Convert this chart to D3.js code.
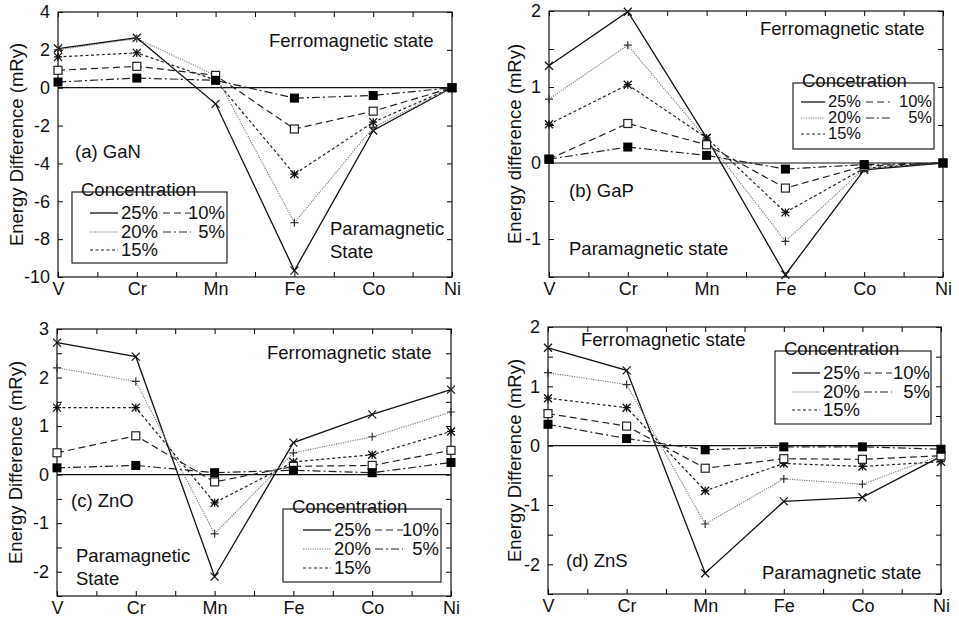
<!DOCTYPE html>
<html>
<head>
<meta charset="utf-8">
<script src="https://cdn.jsdelivr.net/npm/d3@7"></script>
<style>
  body { margin: 0; background: #fff; }
  svg { display: block; font-family: "Liberation Sans", Arial, sans-serif; }
  .axis path { display: none; }
  .axis line { stroke: #000; }
  .axis text { font-size: 18px; fill: #111; }
</style>
</head>
<body>
<svg id="chart" width="959" height="619"></svg>
<script>
const elements = ["V", "Cr", "Mn", "Fe", "Co", "Ni"];
const concentrations = ["25%", "20%", "15%", "10%", "5%"];

// energy difference (mRy), one row per concentration
const ganValues = [
    [2.07, 2.64, -0.85, -9.66, -2.26, 0],
    [2.0, 2.6, 0.65, -7.13, -2.1, 0],
    [1.63, 1.84, 0.4, -4.57, -1.82, 0],
    [0.92, 1.13, 0.65, -2.18, -1.24, 0],
    [0.3, 0.51, 0.39, -0.55, -0.41, 0]
];
const gapValues = [
    [1.28, 1.99, 0.33, -1.47, -0.09, 0],
    [0.84, 1.55, 0.31, -1.03, -0.07, 0],
    [0.51, 1.03, 0.33, -0.65, -0.07, 0],
    [0.05, 0.52, 0.24, -0.33, -0.04, 0],
    [0.05, 0.21, 0.1, -0.08, -0.02, 0]
];
const znoValues = [
    [2.72, 2.43, -2.1, 0.66, 1.24, 1.75],
    [2.2, 1.92, -1.22, 0.45, 0.78, 1.29],
    [1.38, 1.38, -0.58, 0.26, 0.41, 0.89],
    [0.45, 0.8, -0.15, 0.17, 0.19, 0.5],
    [0.14, 0.19, 0.04, 0.09, 0.04, 0.25]
];
const znsValues = [
    [1.65, 1.27, -2.15, -0.94, -0.87, -0.18],
    [1.23, 1.03, -1.32, -0.56, -0.65, -0.16],
    [0.8, 0.64, -0.76, -0.3, -0.35, -0.27],
    [0.54, 0.33, -0.38, -0.22, -0.23, -0.17],
    [0.36, 0.12, -0.07, -0.02, -0.02, -0.06]
];

const seriesStyle = [
    {dash: null, color: "#111", width: 1.3, marker: "cross"},
    {dash: "1.2,1.2", color: "#777", width: 1.1, marker: "plus"},
    {dash: "3,2.5", color: "#222", width: 1.2, marker: "star"},
    {dash: "7,4", color: "#222", width: 1.2, marker: "open"},
    {dash: "8,3,2,3", color: "#222", width: 1.2, marker: "filled"}
];

const panels = [
    {values: ganValues, left: 58, right: 452, top: 12, bottom: 277, domain: [-10, 4], tick: 2, label: 2,
     ylabel: "Energy Difference (mRy)", ylabelX: 18,
     legend: {x: 72, y: 192, w: 155, h: 71, title: "Concentration", rows: [213, 232, 250], col1: 90, col2: 163, lineW: 28, font: 18.5, gap: 34},
     texts: [["Ferromagnetic state", 269, 47], ["(a) GaN", 75, 158], ["Paramagnetic", 330, 235], ["State", 330, 258]]},
    {values: gapValues, left: 549, right: 943, top: 11, bottom: 277, domain: [-1.5, 2], tick: 0.5, label: 1,
     ylabel: "Energy difference (mRy)", ylabelX: 516,
     legend: {x: 793, y: 83, w: 141, h: 66, title: "Concetration", rows: [102, 118, 134], col1: 801, col2: 866, lineW: 24, font: 16.5, gap: 42},
     texts: [["Ferromagnetic state", 760, 35], ["(b) GaP", 569, 197], ["Paramagnetic state", 569, 255]]},
    {values: znoValues, left: 57, right: 451, top: 329, bottom: 596, domain: [-2.5, 3], tick: 0.5, label: 1,
     ylabel: "Energy Difference (mRy)", ylabelX: 17,
     legend: {x: 283, y: 509, w: 158, h: 73, title: "Concentration", rows: [530, 549, 568], col1: 303, col2: 375, lineW: 28, font: 18.5, gap: 36},
     texts: [["Ferromagnetic state", 267, 359], ["(c) ZnO", 71, 507], ["Paramagnetic", 76, 562], ["State", 76, 585]]},
    {values: znsValues, left: 548, right: 941, top: 327, bottom: 594, domain: [-2.5, 2], tick: 0.5, label: 1,
     ylabel: "Energy Difference (mRy)", ylabelX: 516,
     legend: {x: 775, y: 351, w: 156, h: 73, title: "Concentration", rows: [373, 392, 410], col1: 792, col2: 864, lineW: 28, font: 18.5, gap: 38},
     texts: [["Ferromagnetic state", 581, 346], ["(d) ZnS", 566, 567], ["Paramagnetic state", 762, 579]]}
];

const svg = d3.select("#chart");

function drawMarker(g, type, x, y, color) {
    const s = 4;
    if (type === "cross") {
        g.append("path").attr("d", `M${x - s},${y - s}L${x + s},${y + s}M${x - s},${y + s}L${x + s},${y - s}`)
            .attr("stroke", color).attr("stroke-width", 1.2);
    } else if (type === "plus") {
        g.append("path").attr("d", `M${x - s},${y}H${x + s}M${x},${y - s}V${y + s}`)
            .attr("stroke", "#333").attr("stroke-width", 1.2);
    } else if (type === "star") {
        g.append("path").attr("d", `M${x - s},${y - s}L${x + s},${y + s}M${x - s},${y + s}L${x + s},${y - s}M${x - s},${y}H${x + s}M${x},${y - s}V${y + s}`)
            .attr("stroke", "#111").attr("stroke-width", 1.3);
    } else if (type === "open") {
        g.append("rect").attr("x", x - 4).attr("y", y - 4).attr("width", 8).attr("height", 8)
            .attr("fill", "#fff").attr("stroke", "#222").attr("stroke-width", 1.2);
    } else if (type === "filled") {
        g.append("rect").attr("x", x - 4.5).attr("y", y - 4.5).attr("width", 9).attr("height", 9)
            .attr("fill", "#000");
    }
}

function isLabel(d, step) {
    const r = d / step;
    return Math.abs(r - Math.round(r)) < 1e-6;
}

panels.forEach(p => {
    const x = d3.scaleLinear().domain([0, elements.length - 1]).range([p.left, p.right]);
    const y = d3.scaleLinear().domain(p.domain).range([p.bottom, p.top]);
    const g = svg.append("g");

    const yTicks = d3.range(p.domain[0], p.domain[1] + 1e-9, p.tick);
    const xTicks = d3.range(0, elements.length - 1 + 1e-9, 0.5);

    g.append("g").attr("class", "axis")
        .attr("transform", `translate(${p.left},0)`)
        .call(d3.axisLeft(y).tickValues(yTicks).tickSize(-5).tickPadding(8)
            .tickFormat(d => isLabel(d, p.label) ? String(+d.toFixed(2)) : ""));
    g.append("g").attr("class", "axis")
        .attr("transform", `translate(${p.right},0)`)
        .call(d3.axisRight(y).tickValues(yTicks).tickSize(-5).tickFormat(""));
    g.append("g").attr("class", "axis")
        .attr("transform", `translate(0,${p.bottom})`)
        .call(d3.axisBottom(x).tickValues(xTicks).tickSize(-5).tickPadding(5)
            .tickFormat(d => Number.isInteger(d) ? elements[d] : ""));
    g.append("g").attr("class", "axis")
        .attr("transform", `translate(0,${p.top})`)
        .call(d3.axisTop(x).tickValues(xTicks).tickSize(-5).tickFormat(""));

    g.append("rect")
        .attr("x", p.left).attr("y", p.top)
        .attr("width", p.right - p.left).attr("height", p.bottom - p.top)
        .attr("fill", "none").attr("stroke", "#111").attr("stroke-width", 1.2);

    g.append("line")
        .attr("x1", p.left).attr("x2", p.right)
        .attr("y1", y(0)).attr("y2", y(0))
        .attr("stroke", "#111").attr("stroke-width", 1.2);

    g.append("text")
        .attr("transform", `translate(${p.ylabelX},${(p.top + p.bottom) / 2}) rotate(-90)`)
        .attr("text-anchor", "middle").attr("dominant-baseline", "middle")
        .attr("font-size", "18.5px").attr("fill", "#111")
        .text(p.ylabel);

    p.texts.forEach(t => {
        g.append("text").attr("x", t[1]).attr("y", t[2])
            .attr("font-size", "18.5px").attr("fill", "#111").text(t[0]);
    });

    const line = d3.line().x((d, i) => x(i)).y(d => y(d));
    p.values.forEach((vals, si) => {
        const st = seriesStyle[si];
        g.append("path").datum(vals)
            .attr("d", line)
            .attr("fill", "none")
            .attr("stroke", st.color)
            .attr("stroke-width", st.width)
            .attr("stroke-dasharray", st.dash);
    });
    p.values.forEach((vals, si) => {
        const st = seriesStyle[si];
        vals.forEach((v, i) => drawMarker(g, st.marker, x(i), y(v), st.color));
    });

    // legend
    const L = p.legend;
    const lg = g.append("g");
    lg.append("rect").attr("x", L.x).attr("y", L.y).attr("width", L.w).attr("height", L.h)
        .attr("fill", "#fff").attr("stroke", "#222").attr("stroke-width", 1.2);
    lg.append("text").attr("x", L.x + 9).attr("y", L.y + 4)
        .attr("font-size", "18.5px").attr("fill", "#111").text(L.title);
    concentrations.forEach((c, i) => {
        const col = i < 3 ? 0 : 1;
        const row = i < 3 ? i : i - 3;
        const lx = col === 0 ? L.col1 : L.col2;
        const ly = L.rows[row];
        const st = seriesStyle[i];
        lg.append("line")
            .attr("x1", lx).attr("x2", lx + L.lineW)
            .attr("y1", ly).attr("y2", ly)
            .attr("stroke", st.color).attr("stroke-width", st.width)
            .attr("stroke-dasharray", st.dash);
        lg.append("text")
            .attr("x", col === 0 ? lx + L.lineW + 3 : lx + L.lineW + L.gap)
            .attr("y", ly + L.font * 0.33)
            .attr("text-anchor", col === 0 ? "start" : "end")
            .attr("font-size", L.font + "px").attr("fill", "#111")
            .text(c);
    });
});
</script>
</body>
</html>
